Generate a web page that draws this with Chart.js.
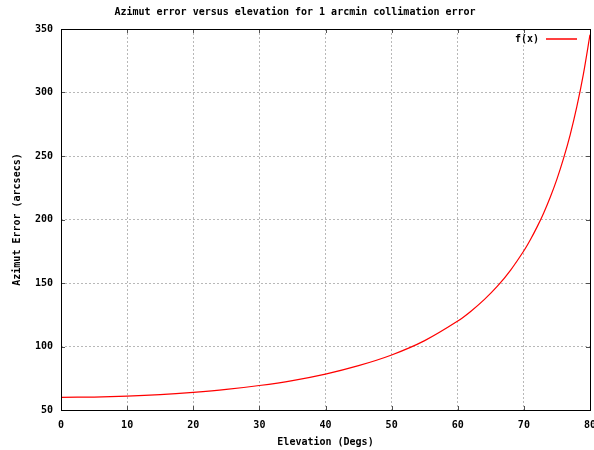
<!DOCTYPE html>
<html>
<head>
<meta charset="utf-8">
<script src="https://cdn.jsdelivr.net/npm/chart.js@4"></script>
<style>
  body { margin: 0; background: #fff; }
  #wrap { width: 594px; height: 450px; }
</style>
</head>
<body>
<div id="wrap"><canvas id="chart" width="594" height="450"></canvas></div>
<script>
// values
const elevation = [0, 5, 10, 15, 20, 25, 30, 35, 40, 45, 50, 55, 60, 62, 64, 66, 68, 70, 71, 72, 73, 74, 75, 76, 77, 78, 79, 80];
const azimutError = [60, 60.2, 60.9, 62.1, 63.9, 66.2, 69.3, 73.2, 78.3, 84.9, 93.3, 104.6, 120, 127.8, 136.9, 147.5, 160.2, 175.4, 184.3, 194.2, 205.2, 217.7, 231.8, 248.1, 266.7, 288.6, 314.5, 345.5];
const xTicks = [0, 10, 20, 30, 40, 50, 60, 70, 80];
const yTicks = [50, 100, 150, 200, 250, 300, 350];

const FONT = 'DejaVu Sans Mono';
const LINE_COLOR = '#ff0000';

// gnuplot style frame, inward tick marks and key
const framePlugin = {
    id: 'frame',
    afterDatasetsDraw(chart) {
        const ctx = chart.ctx;
        const a = chart.chartArea;
        const xs = chart.scales.x, ys = chart.scales.y;
        ctx.save();
        ctx.setLineDash([]);
        ctx.strokeStyle = '#505050';
        ctx.lineWidth = 1;
        ctx.beginPath();
        xTicks.forEach(v => {
            const px = Math.round(xs.getPixelForValue(v)) + 0.5;
            ctx.moveTo(px, a.bottom); ctx.lineTo(px, a.bottom - 4);
            ctx.moveTo(px, a.top); ctx.lineTo(px, a.top + 4);
        });
        yTicks.forEach(v => {
            const py = Math.round(ys.getPixelForValue(v)) + 0.5;
            ctx.moveTo(a.left, py); ctx.lineTo(a.left + 4, py);
            ctx.moveTo(a.right, py); ctx.lineTo(a.right - 4, py);
        });
        ctx.stroke();

        ctx.strokeStyle = '#000';
        ctx.strokeRect(Math.round(a.left) + 0.5, Math.round(a.top) + 0.5,
            Math.round(a.right - a.left), Math.round(a.bottom - a.top));

        // key
        ctx.font = 'bold 10px ' + FONT;
        ctx.fillStyle = '#000';
        ctx.textAlign = 'right';
        ctx.textBaseline = 'middle';
        ctx.fillText(chart.data.datasets[0].label, 539, 39);
        ctx.strokeStyle = LINE_COLOR;
        ctx.lineWidth = 1.5;
        ctx.beginPath();
        ctx.moveTo(546, 39); ctx.lineTo(577, 39);
        ctx.stroke();
        ctx.restore();
    }
};

new Chart(document.getElementById('chart'), {
    type: 'line',
    data: {
        datasets: [{
            label: 'f(x)',
            data: elevation.map((e, i) => ({ x: e, y: azimutError[i] })),
            borderColor: LINE_COLOR,
            borderWidth: 1.2,
            pointRadius: 0,
            tension: 0.3,
            fill: false
        }]
    },
    options: {
        responsive: false,
        animation: false,
        layout: { padding: { left: 0, right: 4, top: 0, bottom: 0 } },
        plugins: {
            legend: { display: false },
            tooltip: { enabled: false },
            title: {
                display: true,
                text: 'Azimut error versus elevation for 1 arcmin collimation error',
                color: '#000',
                font: { family: FONT, size: 10, weight: 'bold' },
                padding: { top: 6, bottom: 11 }
            }
        },
        scales: {
            x: {
                type: 'linear',
                min: 0,
                max: 80,
                afterBuildTicks: s => { s.ticks = xTicks.map(v => ({ value: v })); },
                afterFit: s => { s.height = 40; s.paddingRight = 0; s.paddingLeft = 0; },
                ticks: { color: '#000', padding: 9, font: { family: FONT, size: 10, weight: 'bold' } },
                grid: { color: '#b8b8b8', drawTicks: false },
                border: { display: false, dash: [2, 2] },
                title: {
                    display: true,
                    text: 'Elevation (Degs)',
                    color: '#000',
                    font: { family: FONT, size: 10, weight: 'bold' },
                    padding: { top: 0, bottom: 2 }
                }
            },
            y: {
                type: 'linear',
                min: 50,
                max: 350,
                afterBuildTicks: s => { s.ticks = yTicks.map(v => ({ value: v })); },
                afterFit: s => { s.width = 61; s.paddingTop = 0; s.paddingBottom = 0; },
                ticks: { color: '#000', padding: 8, font: { family: FONT, size: 10, weight: 'bold' } },
                grid: { color: '#b8b8b8', drawTicks: false },
                border: { display: false, dash: [2, 2] },
                title: {
                    display: true,
                    text: 'Azimut Error (arcsecs)',
                    color: '#000',
                    font: { family: FONT, size: 10, weight: 'bold' },
                    padding: { top: 11, bottom: 0 }
                }
            }
        }
    },
    plugins: [framePlugin]
});
</script>
</body>
</html>
